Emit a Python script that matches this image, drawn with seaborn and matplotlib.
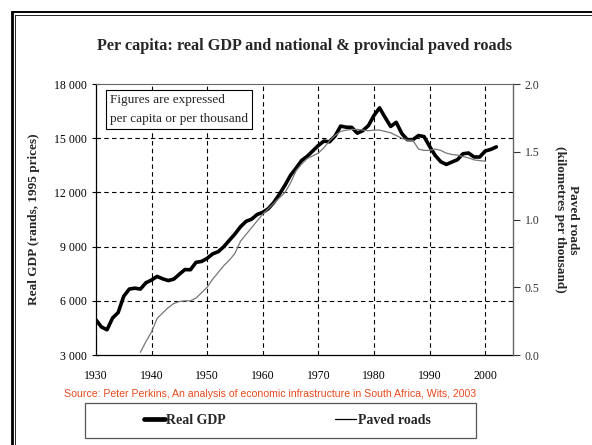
import numpy as np
import pandas as pd
import matplotlib
matplotlib.use("Agg")
import matplotlib.pyplot as plt
from matplotlib.lines import Line2D
from matplotlib.patches import Rectangle
from matplotlib.ticker import FuncFormatter
import seaborn as sns

sns.set_style("white")
plt.rcParams['font.family'] = ['Liberation Serif', 'DejaVu Serif']

# --- data ---
gdp_years = list(range(1930, 2003))
gdp_values = [
    4950, 4550, 4400, 5050, 5350, 6250, 6650, 6700, 6650, 7000,   # 1930s
    7150, 7350, 7220, 7120, 7200, 7470, 7730, 7720, 8130, 8180,   # 1940s
    8350, 8600, 8720, 9000, 9350, 9700, 10100, 10400, 10520, 10780,  # 1950s
    10900, 11100, 11450, 11900, 12400, 12950, 13350, 13770, 14000, 14300,  # 1960s
    14600, 14840, 14800, 15120, 15670, 15610, 15600, 15280, 15420, 15700,  # 1970s
    16260, 16680, 16150, 15650, 15880, 15260, 14920, 14920, 15150, 15090,  # 1980s
    14550, 14050, 13700, 13550, 13680, 13810, 14140, 14180, 13960, 13960,  # 1990s
    14290, 14380, 14520,
]

road_years = list(range(1938, 2001))
road_values = [
    0.02, 0.10,
    0.17, 0.27, 0.31, 0.35, 0.38, 0.395, 0.40, 0.40, 0.42, 0.46,
    0.50, 0.56, 0.61, 0.66, 0.70, 0.75, 0.84, 0.89, 0.94, 0.99,
    1.04, 1.08, 1.12, 1.16, 1.20, 1.27, 1.36, 1.41, 1.45, 1.47,
    1.49, 1.53, 1.58, 1.62, 1.65, 1.66, 1.665, 1.665, 1.66, 1.655,
    1.66, 1.66, 1.65, 1.64, 1.62, 1.60, 1.585, 1.585, 1.52, 1.51,
    1.51, 1.52, 1.51, 1.49, 1.48, 1.475, 1.465, 1.455, 1.44, 1.435,
    1.43,
]

x_ticks = [1930, 1940, 1950, 1960, 1970, 1980, 1990, 2000]
gdp_ticks = [3000, 6000, 9000, 12000, 15000, 18000]
road_ticks = [0.0, 0.5, 1.0, 1.5, 2.0]

title = "Per capita: real GDP and national & provincial paved roads"
note = "Figures are expressed\nper capita or per thousand"
source = "Source: Peter Perkins, An analysis of economic infrastructure in South Africa, Wits, 2003"

gdp_df = pd.DataFrame({"year": gdp_years, "gdp": gdp_values})
road_df = pd.DataFrame({"year": road_years, "roads": road_values})

fig = plt.figure(figsize=(5.92, 4.45), dpi=100)
ax = fig.add_axes([0.162, 0.2022, 0.7046, 0.609])
ax2 = ax.twinx()

sns.lineplot(data=gdp_df, x="year", y="gdp", ax=ax, color="black", linewidth=2.6)
sns.lineplot(data=road_df, x="year", y="roads", ax=ax2, color="#777777", linewidth=0.9)

ax.set_xlim(1930, 2005)
ax.set_ylim(3000, 18000)
ax2.set_ylim(0, 2.0)

ax.set_xticks(x_ticks)
ax.set_yticks(gdp_ticks)
ax.yaxis.set_major_formatter(FuncFormatter(lambda v, p: f"{int(v):,}".replace(",", " ")))
ax2.set_yticks(road_ticks)
ax2.yaxis.set_major_formatter(FuncFormatter(lambda v, p: f"{v:.1f}"))

# dashed grid
for y in gdp_ticks[1:-1]:
    ax.axhline(y, color="black", linestyle=(0, (4, 3)), linewidth=0.8, zorder=0)
for x in x_ticks[1:]:
    ax.axvline(x, color="black", linestyle=(0, (4, 3)), linewidth=0.8, zorder=0)

ax.tick_params(axis="both", labelsize=8.5, direction="inout", length=6, width=0.8, colors="black")
ax.tick_params(axis="x", pad=8)
ax2.tick_params(axis="y", labelsize=8.5, direction="out", length=5, width=0.8, colors="#333333")

for s in ["left", "bottom"]:
    ax.spines[s].set_color("black")
    ax.spines[s].set_linewidth(0.9)
ax.spines["top"].set_color("#666666")
ax.spines["right"].set_visible(False)
for s in ["top", "left", "bottom"]:
    ax2.spines[s].set_visible(False)
ax2.spines["right"].set_color("#666666")
ax2.spines["right"].set_linewidth(1.0)

ax.set_xlabel("")
ax.set_ylabel("Real GDP (rands, 1995 prices)", fontsize=9.5, fontweight="bold", labelpad=10)
ax2.set_ylabel("Paved roads\n(kilometres per thousand)", fontsize=9.5, fontweight="bold",
               rotation=270, labelpad=28, linespacing=1.1)

ax.text(0.034, 0.962, note, transform=ax.transAxes, ha="left", va="top", fontsize=9.5,
        linespacing=1.75,
        bbox=dict(boxstyle="square,pad=0.3", facecolor="white", edgecolor="black", linewidth=0.8))

fig.text(0.515, 0.897, title, ha="center", va="center", fontsize=11.7, fontweight="bold")
fig.text(0.456, 0.115, source, ha="center", va="center", fontsize=7.6,
         color="#E84A1E", family=["Liberation Sans", "DejaVu Sans"])

# legend box
fig.add_artist(Rectangle((0.1436, 0.0157), 0.66, 0.0787, transform=fig.transFigure,
                         facecolor="white", edgecolor="#555555", linewidth=0.9))
handles = [Line2D([0], [0], color="black", linewidth=3.4),
           Line2D([0], [0], color="black", linewidth=0.9)]
leg = fig.legend(handles, ["Real GDP", "Paved roads"], loc="center", ncol=2,
                 bbox_to_anchor=(0.485, 0.056), frameon=False,
                 handlelength=1.5, handletextpad=0.1, columnspacing=7.9,
                 prop={"size": 10, "weight": "bold"})

# outer border of the chart
fig.add_artist(Line2D([0.021, 0.021], [0.0, 0.973], transform=fig.transFigure, color="black", linewidth=2.0))
fig.add_artist(Line2D([0.021, 1.0], [0.973, 0.973], transform=fig.transFigure, color="black", linewidth=1.4))
fig.add_artist(Line2D([0.026, 0.026], [0.0, 0.967], transform=fig.transFigure, color="black", linewidth=0.6))
fig.add_artist(Line2D([0.026, 1.0], [0.967, 0.967], transform=fig.transFigure, color="black", linewidth=0.6))

fig.savefig("out.png", dpi=100)
